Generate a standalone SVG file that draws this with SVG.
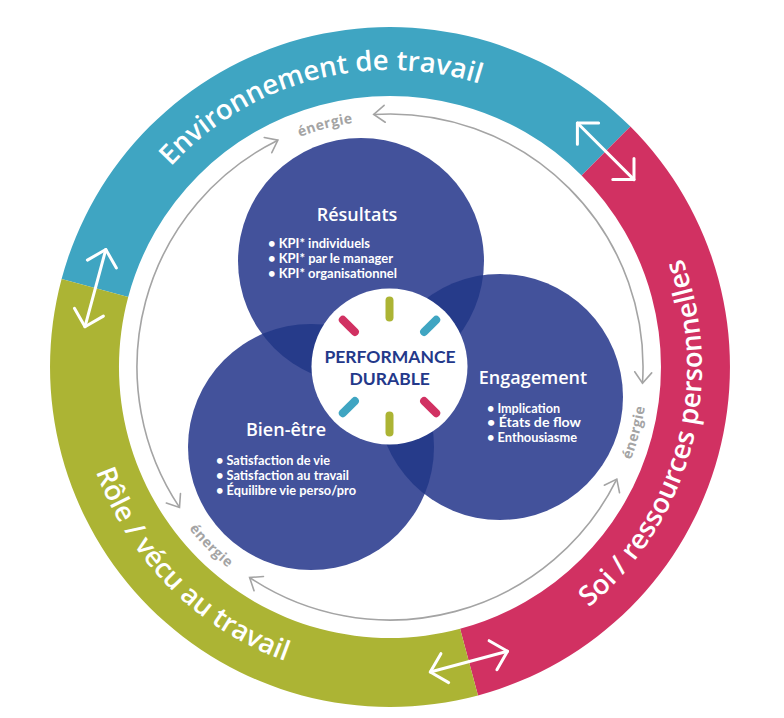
<svg xmlns="http://www.w3.org/2000/svg" width="784" height="718" viewBox="0 0 784 718">
<style>
.ringtxt{font-family:"Open Sans","Liberation Sans",sans-serif;font-weight:600;font-size:27.5px;fill:#fff}
.en{font-family:"Open Sans","Liberation Sans",sans-serif;font-weight:700;font-size:14px;fill:#a4a4a4;letter-spacing:0.4px}
.title{font-family:"Open Sans","Liberation Sans",sans-serif;font-weight:600;font-size:18px;fill:#fff;text-anchor:middle}
.bul{font-family:Lato,"Liberation Sans",sans-serif;font-weight:700;font-size:12.5px;fill:#fff}
.perf{font-family:Lato,"Liberation Sans",sans-serif;font-weight:700;font-size:17.5px;fill:#23388a;text-anchor:middle}
.circ{fill:#43529b}
.ov{fill:#263b8a}
.tick{stroke-width:8;stroke-linecap:round;fill:none}
.warrow{stroke:#fff;stroke-width:3;stroke-linecap:round;fill:none;marker-start:url(#wh);marker-end:url(#wh)}
.garc{stroke:#a4a4a4;stroke-width:1.6;fill:none;marker-start:url(#gh);marker-end:url(#gh)}
</style>
<defs>
<marker id="wh" viewBox="-18 -18 20 36" markerWidth="20" markerHeight="36" refX="0" refY="0" orient="auto-start-reverse" markerUnits="userSpaceOnUse" style="overflow:visible">
<path d="M-15,-15 L0,0 L-15,15" fill="none" stroke="#fff" stroke-width="3" stroke-linecap="round" stroke-linejoin="round"/>
</marker>
<marker id="gh" viewBox="-14 -10 16 20" markerWidth="16" markerHeight="20" refX="0" refY="0" orient="auto-start-reverse" markerUnits="userSpaceOnUse" style="overflow:visible">
<path d="M-11,-8.5 L0,0 L-11,8.5" fill="none" stroke="#a4a4a4" stroke-width="1.6" stroke-linecap="round"/>
</marker>
<clipPath id="cR"><circle cx="361" cy="261" r="123"/></clipPath>
<clipPath id="cE"><circle cx="500" cy="397" r="123"/></clipPath>
<path id="pTop" d="M103.1,290.1 A297,297 0 0 1 600,157"/>
<path id="pPink" d="M470.75,668.4 A312,312 0 0 0 610.6,146.4"/>
<path id="pGreen" d="M88.6,286.25 A312,312 0 0 0 470.75,668.4"/>
<path id="eTop" d="M215.3,192.3 A247,247 0 0 1 453.9,128.4"/>
<path id="eRight" d="M572.4,549.4 A258,258 0 0 0 639.2,300.2"/>
<path id="eLeft" d="M140.8,433.8 A258,258 0 0 0 323.2,616.2"/>
</defs>

<g id="ring-environnement">
<path d="M61.6,279 A340,340 0 0 1 630.4,126.6 L581.6,175.4 A271,271 0 0 0 128.2,296.9 Z" fill="#3fa5c2"/>
<text class="ringtxt"><textPath href="#pTop" startOffset="50%" text-anchor="middle">Environnement de travail</textPath></text>
</g>
<g id="ring-soi">
<path d="M630.4,126.6 A340,340 0 0 1 478,695.4 L460.1,628.8 A271,271 0 0 0 581.6,175.4 Z" fill="#d13162"/>
<text class="ringtxt"><textPath href="#pPink" startOffset="50%" text-anchor="middle">Soi / ressources personnelles</textPath></text>
</g>
<g id="ring-role">
<path d="M478,695.4 A340,340 0 0 1 61.6,279 L128.2,296.9 A271,271 0 0 0 460.1,628.8 Z" fill="#acb434"/>
<text class="ringtxt"><textPath href="#pGreen" startOffset="50%" text-anchor="middle">Rôle / vécu au travail</textPath></text>
</g>

<g id="connectors">
<line class="warrow" x1="85" y1="326.7" x2="105.8" y2="249.5"/>
<line class="warrow" x1="577.4" y1="123" x2="634" y2="179.6"/>
<line class="warrow" x1="430.3" y1="672" x2="507.5" y2="651.3"/>
<path class="garc" d="M373.7,114.5 A253,253 0 0 1 642.5,383.3"/>
<path class="garc" d="M616.8,479.1 A253,253 0 0 1 249.6,577.5"/>
<path class="garc" d="M179.5,507.4 A253,253 0 0 1 277.9,140.2"/>
<text class="en"><textPath href="#eTop" startOffset="50%" text-anchor="middle">énergie</textPath></text>
<text class="en"><textPath href="#eRight" startOffset="50%" text-anchor="middle">énergie</textPath></text>
<text class="en"><textPath href="#eLeft" startOffset="50%" text-anchor="middle">énergie</textPath></text>
</g>

<g id="circles-base">
<circle class="circ" cx="361" cy="261" r="123"/>
<circle class="circ" cx="500" cy="397" r="123"/>
<circle class="circ" cx="311" cy="447" r="123"/>
<circle class="ov" cx="500" cy="397" r="123" clip-path="url(#cR)"/>
<circle class="ov" cx="311" cy="447" r="123" clip-path="url(#cR)"/>
<circle class="ov" cx="311" cy="447" r="123" clip-path="url(#cE)"/>
</g>

<g id="resultats">
<text class="title" x="357" y="221">Résultats</text>
<text class="bul" x="268" y="248.3" textLength="102" lengthAdjust="spacingAndGlyphs">• KPI* individuels</text>
<text class="bul" x="268" y="263.3" textLength="125" lengthAdjust="spacingAndGlyphs">• KPI* par le manager</text>
<text class="bul" x="268" y="278.3" textLength="129" lengthAdjust="spacingAndGlyphs">• KPI* organisationnel</text>
</g>
<g id="engagement">
<text class="title" x="533" y="384">Engagement</text>
<text class="bul" x="487" y="412.7" textLength="73" lengthAdjust="spacingAndGlyphs">• Implication</text>
<text class="bul" x="487" y="427.2" textLength="94" lengthAdjust="spacingAndGlyphs">• États de flow</text>
<text class="bul" x="487" y="441.7" textLength="90" lengthAdjust="spacingAndGlyphs">• Enthousiasme</text>
</g>
<g id="bien-etre">
<text class="title" x="286" y="436">Bien-être</text>
<text class="bul" x="216" y="465" textLength="114" lengthAdjust="spacingAndGlyphs">• Satisfaction de vie</text>
<text class="bul" x="216" y="480" textLength="133" lengthAdjust="spacingAndGlyphs">• Satisfaction au travail</text>
<text class="bul" x="216" y="495" textLength="140" lengthAdjust="spacingAndGlyphs">• Équilibre vie perso/pro</text>
</g>

<g id="performance-durable">
<circle cx="389.5" cy="366.5" r="78" fill="#fff"/>
<line class="tick" stroke="#acb434" x1="389.5" y1="300.5" x2="389.5" y2="317.5"/>
<line class="tick" stroke="#acb434" x1="389.5" y1="415.5" x2="389.5" y2="432.5"/>
<line class="tick" stroke="#d13162" x1="342.8" y1="319.8" x2="354.9" y2="331.9"/>
<line class="tick" stroke="#d13162" x1="436.2" y1="413.2" x2="424.1" y2="401.1"/>
<line class="tick" stroke="#3fa5c2" x1="436.2" y1="319.8" x2="424.1" y2="331.9"/>
<line class="tick" stroke="#3fa5c2" x1="342.8" y1="413.2" x2="354.9" y2="401.1"/>
<text class="perf" x="390" y="362.7">PERFORMANCE</text>
<text class="perf" x="389.7" y="385">DURABLE</text>
</g>
</svg>
